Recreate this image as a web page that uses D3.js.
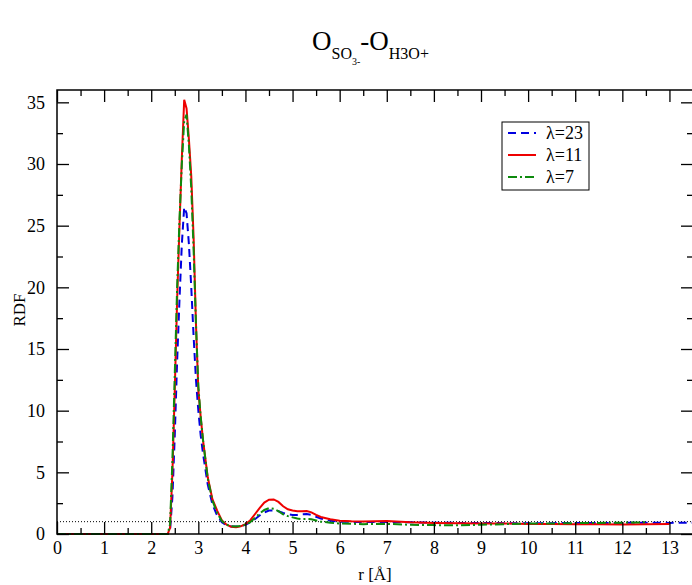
<!DOCTYPE html>
<html>
<head>
<meta charset="utf-8">
<script src="https://cdn.jsdelivr.net/npm/d3@7"></script>
<style>
  body { margin: 0; background: #fff; }
  svg text { font-family: "Liberation Serif", "Times New Roman", serif !important; fill: #000; }
</style>
</head>
<body>
<div id="chart"></div>
<script>
// chart size and plot frame
const width = 692;
const height = 585;
const margin = { left: 57, right: -1, top: 90, bottom: 51 };
const serif = "'Liberation Serif', 'Times New Roman', serif";

// r values (Angstrom) shared by all series
const rVals = [0, 2.35, 2.40, 2.45, 2.50, 2.55, 2.60, 2.65, 2.70, 2.75, 2.80, 2.85, 2.90, 2.95,
  3.00, 3.05, 3.10, 3.20, 3.30, 3.40, 3.50, 3.60, 3.70, 3.80, 3.90, 4.00, 4.10, 4.20, 4.30,
  4.40, 4.50, 4.60, 4.70, 4.80, 4.90, 5.00, 5.10, 5.20, 5.30, 5.40, 5.50, 5.60, 5.80, 6.00,
  6.25, 6.50, 7.00, 7.50, 8.00, 8.50, 9.00, 9.50, 10.0, 10.5, 11.0, 11.5, 12.0, 12.5, 13.0, 13.5];

// RDF values, lambda = 23 (blue dashed)
const rdf23 = [0, 0, 0.3, 3, 8, 14, 19, 23.5, 26.5, 26, 23.5, 20, 16, 12.5,
  10, 8, 6.5, 4.0, 2.4, 1.5, 0.95, 0.7, 0.6, 0.6, 0.65, 0.75, 0.95, 1.2, 1.5,
  1.75, 1.9, 1.92, 1.85, 1.7, 1.6, 1.55, 1.55, 1.6, 1.62, 1.55, 1.4, 1.25, 1.08, 1.0,
  0.98, 0.97, 0.98, 0.95, 0.92, 0.9, 0.9, 0.88, 0.88, 0.88, 0.9, 0.9, 0.9, 0.92, 0.9, 0.92];

// RDF values, lambda = 11 (red solid), ends at r = 13
const rdf11 = [0, 0, 0.5, 5, 11.7, 19, 25, 30.5, 35.2, 34.5, 32, 29, 24, 17,
  11.7, 9.5, 7.6, 4.6, 2.8, 1.9, 1.1, 0.75, 0.58, 0.55, 0.62, 0.8, 1.1, 1.6, 2.1,
  2.55, 2.78, 2.8, 2.6, 2.25, 2.0, 1.9, 1.85, 1.85, 1.87, 1.75, 1.55, 1.38, 1.2, 1.08,
  1.03, 1.02, 1.05, 0.95, 0.9, 0.88, 0.85, 0.85, 0.82, 0.82, 0.8, 0.8, 0.78, 0.8, 0.82, null];

// RDF values, lambda = 7 (green dash-dot), ends near r = 12.5
const rdf7 = [0, 0, 0.8, 6, 13, 20, 25.5, 30, 33.5, 34, 31.5, 28, 23, 17,
  12, 9.5, 7.6, 4.5, 2.7, 1.7, 1.05, 0.75, 0.62, 0.6, 0.65, 0.75, 0.95, 1.3, 1.65,
  1.95, 2.1, 2.05, 1.85, 1.6, 1.45, 1.35, 1.25, 1.2, 1.22, 1.2, 1.1, 1.0, 0.92, 0.85,
  0.83, 0.8, 0.82, 0.75, 0.72, 0.7, 0.75, 0.8, 0.85, 0.85, 0.88, 0.9, 0.92, 0.95, null, null];

const seriesNames = ["\u03bb=23", "\u03bb=11", "\u03bb=7"];
const seriesColors = ["#0000e0", "#ee0000", "#0d8a0d"];
const seriesDash = ["8,5", null, "9,3,2,3"];
const seriesData = [rdf23, rdf11, rdf7];

const xTicks = d3.range(0, 14);
const yTicks = [0, 5, 10, 15, 20, 25, 30, 35];

const svg = d3.select("#chart")
  .append("svg")
  .attr("width", width)
  .attr("height", height)
  .attr("font-family", serif);

const x = d3.scaleLinear()
  .domain([0, 13.5])
  .range([margin.left, width - margin.right]);

const y = d3.scaleLinear()
  .domain([0, 36])
  .range([height - margin.bottom, margin.top]);

// reference line at g(r) = 1
svg.append("line")
  .attr("x1", x(0)).attr("x2", x(13.5))
  .attr("y1", y(1)).attr("y2", y(1))
  .attr("stroke", "#000")
  .attr("stroke-width", 1)
  .attr("stroke-dasharray", "1,2");

// curves
const line = d3.line()
  .defined(d => d[1] !== null)
  .x(d => x(d[0]))
  .y(d => y(d[1]));

seriesData.forEach((vals, i) => {
  svg.append("path")
    .datum(rVals.map((r, j) => [r, vals[j]]))
    .attr("fill", "none")
    .attr("stroke", seriesColors[i])
    .attr("stroke-width", 2)
    .attr("stroke-dasharray", seriesDash[i])
    .attr("d", line);
});

// frame
svg.append("rect")
  .attr("x", x(0)).attr("y", y(36))
  .attr("width", x(13.5) - x(0))
  .attr("height", y(0) - y(36))
  .attr("fill", "none")
  .attr("stroke", "#000")
  .attr("stroke-width", 1.5);

// axes: major ticks with labels, minor ticks without, all pointing inward
const xMinor = d3.range(0.5, 13.5, 1);
const yMinor = d3.range(2.5, 36, 5);

function styleAxis(g) {
  g.attr("font-family", serif);
  g.select(".domain").remove();
  g.selectAll(".tick line").attr("stroke", "#000").attr("stroke-width", 1.3);
  g.selectAll("text").attr("font-size", "18px").attr("font-family", serif).attr("fill", "#000");
}

svg.append("g")
  .attr("transform", `translate(0,${y(0)})`)
  .call(d3.axisBottom(x).tickValues(xTicks).tickSize(-12).tickPadding(7).tickFormat(d3.format("d")))
  .call(styleAxis);
svg.append("g")
  .attr("transform", `translate(0,${y(0)})`)
  .call(d3.axisBottom(x).tickValues(xMinor).tickSize(-6).tickFormat(""))
  .call(styleAxis);
svg.append("g")
  .attr("transform", `translate(0,${y(36)})`)
  .call(d3.axisTop(x).tickValues(xTicks).tickSize(-12).tickFormat(""))
  .call(styleAxis);
svg.append("g")
  .attr("transform", `translate(0,${y(36)})`)
  .call(d3.axisTop(x).tickValues(xMinor).tickSize(-6).tickFormat(""))
  .call(styleAxis);

svg.append("g")
  .attr("transform", `translate(${x(0)},0)`)
  .call(d3.axisLeft(y).tickValues(yTicks).tickSize(-12).tickPadding(12))
  .call(styleAxis);
svg.append("g")
  .attr("transform", `translate(${x(0)},0)`)
  .call(d3.axisLeft(y).tickValues(yMinor).tickSize(-6).tickFormat(""))
  .call(styleAxis);
svg.append("g")
  .attr("transform", `translate(${x(13.5)},0)`)
  .call(d3.axisRight(y).tickValues(yTicks).tickSize(-12).tickFormat(""))
  .call(styleAxis);
svg.append("g")
  .attr("transform", `translate(${x(13.5)},0)`)
  .call(d3.axisRight(y).tickValues(yMinor).tickSize(-6).tickFormat(""))
  .call(styleAxis);

// axis titles
svg.append("text")
  .attr("x", 375).attr("y", 580)
  .attr("text-anchor", "middle")
  .attr("font-size", "17px")
  .text("r [\u00c5]");

svg.append("text")
  .attr("transform", "translate(25,310) rotate(-90)")
  .attr("text-anchor", "middle")
  .attr("font-size", "17px")
  .text("RDF");

// title with subscripts
const title = svg.append("text")
  .attr("x", 312).attr("y", 50)
  .attr("font-size", "27px");
title.append("tspan").text("O");
title.append("tspan").attr("font-size", "16px").attr("dy", 9).text("SO");
title.append("tspan").attr("font-size", "10px").attr("dy", 6).text("3-");
title.append("tspan").attr("font-size", "27px").attr("dy", -15).text("-O");
title.append("tspan").attr("font-size", "16px").attr("dy", 9).text("H3O+");

// legend
const legend = svg.append("g");
legend.append("rect")
  .attr("x", 502).attr("y", 122)
  .attr("width", 87).attr("height", 68)
  .attr("fill", "#fff")
  .attr("stroke", "#000")
  .attr("stroke-width", 1);

seriesNames.forEach((name, i) => {
  const ly = 133 + i * 22;
  legend.append("line")
    .attr("x1", 508).attr("x2", 536)
    .attr("y1", ly).attr("y2", ly)
    .attr("stroke", seriesColors[i])
    .attr("stroke-width", 2)
    .attr("stroke-dasharray", seriesDash[i]);
  legend.append("text")
    .attr("x", 546).attr("y", ly + 6)
    .attr("font-size", "18px")
    .text(name);
});
</script>
</body>
</html>
